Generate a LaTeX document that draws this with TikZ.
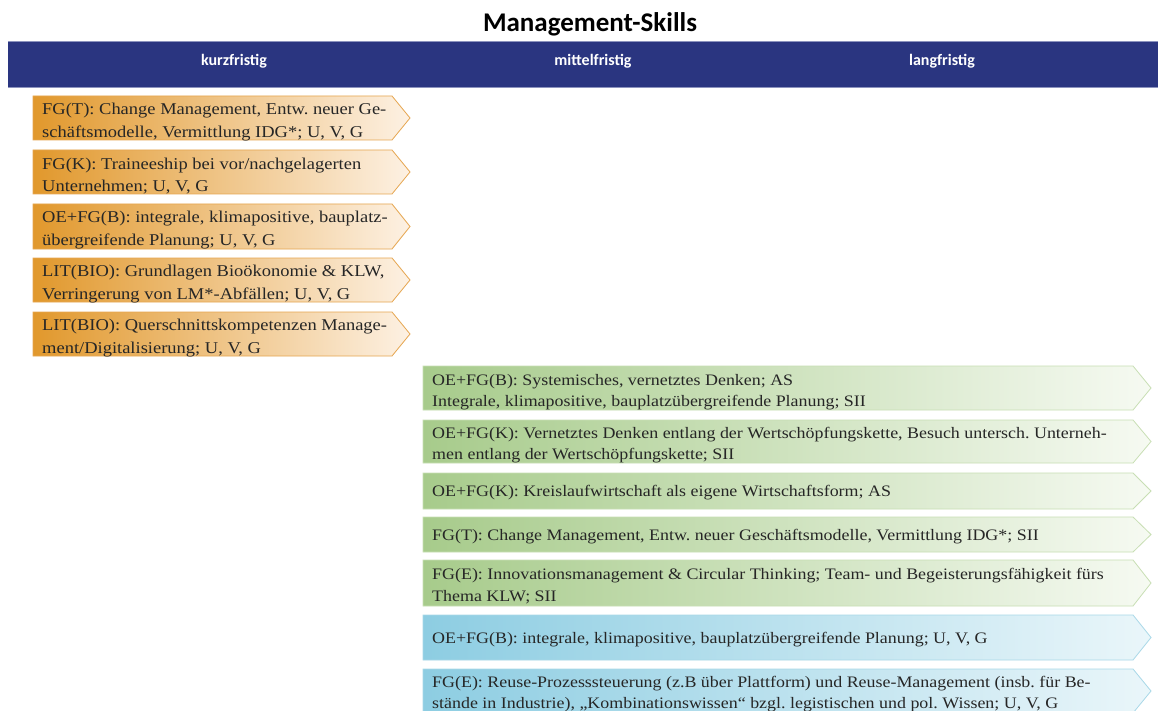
\documentclass[tikz,border=0pt]{standalone}
\usepackage{fontspec}
\setmainfont[FakeStretch=1.12]{Liberation Serif}
\newfontfamily\headfont{Carlito}
\frenchspacing
\definecolor{navy}{HTML}{2A3580}
\definecolor{navyline}{HTML}{8C93BE}
\definecolor{orL}{HTML}{E1982C}
\definecolor{orM}{HTML}{EFB766}
\definecolor{orR}{HTML}{FDF1E3}
\definecolor{orB}{HTML}{E6A650}
\definecolor{grL}{HTML}{A7CB8B}
\definecolor{grM}{HTML}{C6DEB2}
\definecolor{grR}{HTML}{F6FAF2}
\definecolor{grB}{HTML}{C8DFB4}
\definecolor{blL}{HTML}{8DCDE2}
\definecolor{blM}{HTML}{B4DFED}
\definecolor{blR}{HTML}{EAF6FA}
\definecolor{blB}{HTML}{A8D8E8}
\newcommand\chevbox[5]{%
  \path[#1] (#2,#3) -- (#5,#3) -- ({#5+18},{(#3+#4)/2}) -- (#5,#4) -- (#2,#4) -- cycle;}
\begin{document}
\begin{tikzpicture}[x=1pt,y=-1pt,
  orbox/.style={left color=orL,middle color=orM,right color=orR,draw=orB,line width=0.8pt},
  grbox/.style={left color=grL,middle color=grM,right color=grR,draw=grB,line width=0.8pt},
  blbox/.style={left color=blL,middle color=blM,right color=blR,draw=blB,line width=0.8pt},
  txt/.style={anchor=west,align=left,inner sep=0pt,text=black!85,font=\fontsize{16.5}{22.5}\selectfont},
  gtxt/.style={txt,font=\fontsize{16}{21.5}\selectfont},
  head/.style={text=white,font=\headfont\bfseries\fontsize{16}{19}\selectfont}]
\useasboundingbox (0,0) rectangle (1158,711);
\clip (0,0) rectangle (1158,711);
\fill[white] (0,0) rectangle (1158,711);
\node[font=\headfont\bfseries\fontsize{27}{31}\selectfont] (title) at (590,24) {Management-Skills};
\fill[navy] (8,41) rectangle (1160,87);
\draw[navyline,line width=0.8pt] (8,41) -- (1160,41) (8,87) -- (1160,87);
\node[head] (k) at (234,61) {kurzfristig};
\node[head] (m) at (593,61) {mittelfristig};
\node[head] (l) at (942,61) {langfristig};
% orange
\chevbox{orbox}{33}{96}{140}{392}
\chevbox{orbox}{33}{150}{194}{392}
\chevbox{orbox}{33}{204}{249}{392}
\chevbox{orbox}{33}{258}{302}{392}
\chevbox{orbox}{33}{312}{356}{392}
\node[txt] (o1) at (42,122) {FG(T): Change Management, Entw. neuer Ge-\\schäftsmodelle, Vermittlung IDG*; U, V, G};
\node[txt] (o2) at (42,176) {FG(K): Traineeship bei vor/nachgelagerten\\Unternehmen; U, V, G};
\node[txt] (o3) at (42,230) {OE+FG(B): integrale, klimapositive, bauplatz-\\übergreifende Planung; U, V, G};
\node[txt] (o4) at (42,284) {LIT(BIO): Grundlagen Bioökonomie \& KLW,\\Verringerung von LM*-Abfällen; U, V, G};
\node[txt] (o5) at (42,338) {LIT(BIO): Querschnittskompetenzen Manage-\\ment/Digitalisierung; U, V, G};
% green
\chevbox{grbox}{423}{366}{410}{1133}
\chevbox{grbox}{423}{420}{463}{1133}
\chevbox{grbox}{423}{473}{509}{1133}
\chevbox{grbox}{423}{517}{552}{1133}
\chevbox{grbox}{423}{560}{606}{1133}
\chevbox{blbox}{423}{615}{660}{1133}
\chevbox{blbox}{423}{669}{713}{1133}
\node[gtxt] (g1) at (432,392) {OE+FG(B): Systemisches, vernetztes Denken; AS\\Integrale, klimapositive, bauplatzübergreifende Planung; SII};
\node[gtxt] (g2) at (432,445) {OE+FG(K): Vernetztes Denken entlang der Wertschöpfungskette, Besuch untersch. Unterneh-\\men entlang der Wertschöpfungskette; SII};
\node[gtxt] (g3) at (432,493) {OE+FG(K): Kreislaufwirtschaft als eigene Wirtschaftsform; AS};
\node[gtxt] (g4) at (432,537) {FG(T): Change Management, Entw. neuer Geschäftsmodelle, Vermittlung IDG*; SII};
\node[gtxt] (g5) at (432,586) {FG(E): Innovationsmanagement \& Circular Thinking; Team- und Begeisterungsfähigkeit fürs\\Thema KLW; SII};
\node[gtxt] (b1) at (432,640) {OE+FG(B): integrale, klimapositive, bauplatzübergreifende Planung; U, V, G};
\node[gtxt] (b2) at (432,694) {FG(E): Reuse-Prozesssteuerung (z.B über Plattform) und Reuse-Management (insb. für Be-\\stände in Industrie), „Kombinationswissen“ bzgl. legistischen und pol. Wissen; U, V, G};
\end{tikzpicture}
\end{document}
